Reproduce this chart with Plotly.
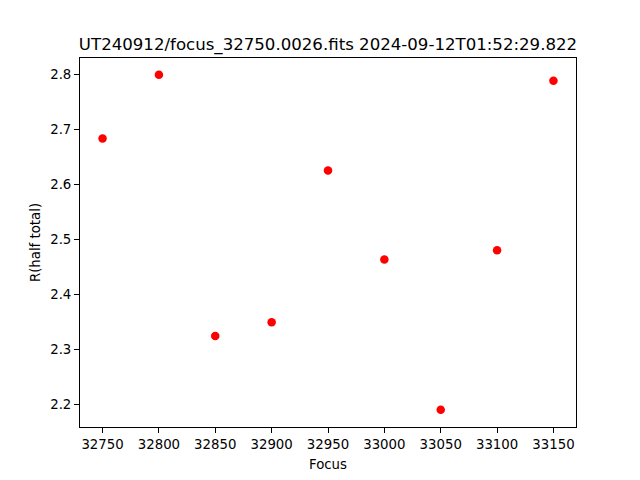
import plotly.graph_objects as go

focus = [32750, 32800, 32850, 32900, 32950, 33000, 33050, 33100, 33150]
r_half_total = [2.684, 2.800, 2.325, 2.350, 2.626, 2.464, 2.191, 2.481, 2.789]
x_ticks = [32750, 32800, 32850, 32900, 32950, 33000, 33050, 33100, 33150]
y_ticks = [2.2, 2.3, 2.4, 2.5, 2.6, 2.7, 2.8]
title = "UT240912/focus_32750.0026.fits 2024-09-12T01:52:29.822"

fig = go.Figure(go.Scatter(
    x=focus, y=r_half_total, mode="markers",
    marker=dict(color="red", size=8.5, line=dict(width=0)),
))

axis_common = dict(
    showgrid=False, zeroline=False, showline=True, linecolor="black", linewidth=1,
    mirror=True, ticks="outside", ticklen=5, tickwidth=1, tickcolor="black",
    tickfont=dict(family="DejaVu Sans", size=13.3, color="black"),
)

fig.update_layout(
    width=640, height=480,
    margin=dict(l=80, r=64, t=57.6, b=52.8),
    paper_bgcolor="white", plot_bgcolor="white",
    showlegend=False,
    font=dict(family="DejaVu Sans", color="black"),
    title=dict(text=title, x=0.5, xanchor="center", xref="paper",
               y=1, yref="paper", yanchor="bottom", pad=dict(b=8),
               font=dict(family="DejaVu Sans", size=16.6, color="black")),
    xaxis=dict(axis_common, range=[32730, 33170], tickvals=x_ticks,
               tickformat="d",
               title=dict(text="Focus", standoff=8,
                          font=dict(family="DejaVu Sans", size=13.3, color="black"))),
    yaxis=dict(axis_common, range=[2.1595, 2.8305], tickvals=y_ticks,
               tickformat=".1f",
               title=dict(text="R(half total)", standoff=6,
                          font=dict(family="DejaVu Sans", size=13.3, color="black"))),
)

fig.write_html("out.html", config={"displayModeBar": False},
               post_script="document.body.style.margin='0';")
